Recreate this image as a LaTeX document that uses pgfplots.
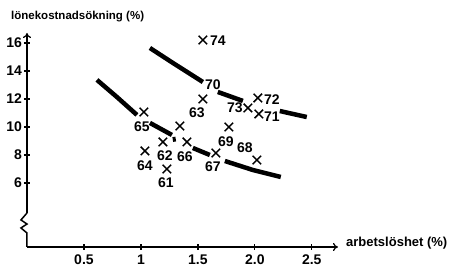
\documentclass[border=0pt]{standalone}
\usepackage{fontspec}
\setmainfont{Liberation Sans}
\usepackage{pgfplots}
\pgfplotsset{compat=1.18}
\usepackage{pgfplotstable}
\usetikzlibrary{arrows.meta}

\pgfplotstableread{
x y lab dx dy
1.544 16.21 74 15 -1
1.544 12.00 63 -6 -14
1.939 11.36 73 -13 0
2.026 12.07 72 14 -2
2.035 10.93 71 13 -3
1.772 10.00 69 -3 -15
2.018 7.64 68 -12 12
1.658 8.14 67 -3 -14
1.404 8.93 66 -2 -15
1.193 8.93 62 2 -14
1.035 8.29 64 0 -15
1.228 7.00 61 -1 -14
1.026 11.07 65 -2 -15
}\pts

\begin{document}
\begin{tikzpicture}[x=1pt,y=1pt]
\begin{axis}[
  at={(27pt,20pt)}, anchor=south west,
  scale only axis, width=311pt, height=214pt,
  xmin=0, xmax=2.73, ymin=1.43, ymax=16.71,
  axis lines=left,
  x axis line style={-{To[length=5pt,width=8pt,line width=1.2pt]}, line width=1.5pt},
  y axis line style={draw=none},
  xtick={0.5,1,1.5,2,2.5}, xticklabels={0.5,1,1.5,2.0,2.5},
  ytick={6,8,10,12,14,16},
  tick align=center, major tick length=6pt,
  tick style={line width=1.3pt, black},
  ticklabel style={font=\fontsize{14}{14}\selectfont\bfseries},
  /pgf/number format/assume math mode=true,
  yticklabel style={xshift=1.5pt},
  xticklabel style={yshift=-1pt},
  clip=false,
]
\addplot[only marks, mark=x, mark size=6pt, mark options={line width=1.5pt},
  point meta=explicit symbolic, nodes near coords,
  visualization depends on={\thisrow{dx}\as\mydx},
  visualization depends on={\thisrow{dy}\as\mydy},
  every node near coord/.append style={anchor=center, inner sep=0pt,
     xshift={\mydx*1pt}, yshift={\mydy*1pt}, font=\fontsize{14}{14}\selectfont\bfseries}]
  table[x=x, y=y, meta=lab] {\pts};
\addplot[only marks, mark=x, mark size=6pt, mark options={line width=1.5pt}]
  coordinates {(1.342,10.07)};
\addplot[only marks, mark=none, point meta=explicit symbolic, nodes near coords,
  every node near coord/.append style={anchor=center, inner sep=0pt,
     font=\fontsize{14}{14}\selectfont\bfseries}]
  coordinates {(1.632,13.0) [70]};
% upper curve
\addplot[line width=4.5pt] coordinates {(1.079,15.64) (1.281,14.57) (1.544,13.21)};
\addplot[line width=4.5pt] coordinates {(1.675,12.5) (1.895,11.86)};
\addplot[line width=4.5pt] coordinates {(2.219,11.14) (2.456,10.71)};
% lower curve
\addplot[line width=4.5pt] coordinates {(0.614,13.36) (0.789,12.14) (0.965,10.86)};
\addplot[line width=4.5pt] coordinates {(1.079,10.29) (1.272,9.43)};
\addplot[line width=3pt] coordinates {(1.289,9.29) (1.296,8.95)};
\addplot[line width=4.5pt] coordinates {(1.456,8.5) (1.605,8.0)};
\addplot[line width=4.5pt] coordinates {(1.737,7.57) (1.982,6.93) (2.228,6.43)};
% y axis with break
\draw[line width=1.5pt, line join=miter] (axis cs:0,1.43) -- (axis cs:0,2.43) -- (axis cs:-0.053,2.79)
  -- (axis cs:0,3.07) -- (axis cs:-0.053,3.36) -- (axis cs:0,3.86);
\draw[line width=1.5pt, -{To[length=5pt,width=8pt,line width=1.2pt]}] (axis cs:0,3.86) -- (axis cs:0,16.71);
\end{axis}
\node[anchor=west, inner sep=0pt, font=\fontsize{11.5}{11.5}\selectfont\bfseries] at (11,250) {lönekostnadsökning (\%)};
\node[anchor=west, inner sep=0pt, font=\fontsize{13}{13}\selectfont\bfseries] at (346,24) {arbetslöshet (\%)};
\pgfresetboundingbox
\useasboundingbox (0,0) rectangle (453,267);
\end{tikzpicture}
\end{document}
